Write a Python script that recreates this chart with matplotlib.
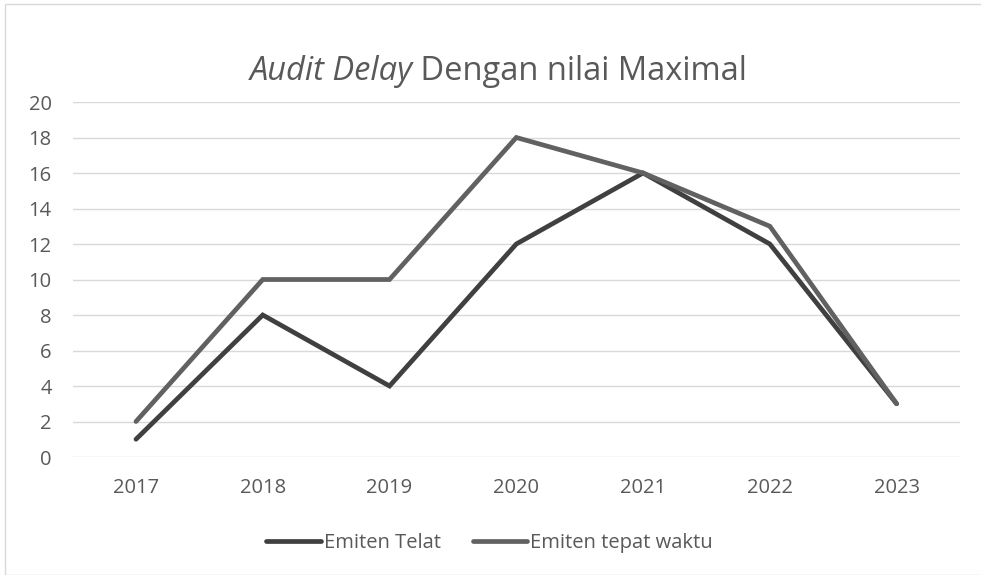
import matplotlib.pyplot as plt
from matplotlib.patches import Rectangle

years = ["2017", "2018", "2019", "2020", "2021", "2022", "2023"]
telat = [1, 8, 4, 12, 16, 12, 3]
tepat_waktu = [2, 10, 10, 18, 16, 13, 3]
y_ticks = [0, 2, 4, 6, 8, 10, 12, 14, 16, 18, 20]

plt.rcParams["font.family"] = ["Open Sans", "DejaVu Sans"]
grey = "#595959"

fig = plt.figure(figsize=(9.81, 5.75), dpi=100)
fig.patches.append(Rectangle((5 / 981, 0), 1, 1 - 4 / 575, transform=fig.transFigure,
                             fill=False, edgecolor="#d9d9d9", linewidth=1))
ax = fig.add_axes([0.074, 0.2052, 0.9046, 0.6174])

x = list(range(len(years)))
ax.plot(x, telat, color="#404040", linewidth=3.4, label="Emiten Telat",
        solid_capstyle="round", solid_joinstyle="miter")
ax.plot(x, tepat_waktu, color="#616161", linewidth=3.4, label="Emiten tepat waktu",
        solid_capstyle="round", solid_joinstyle="miter")

ax.set_xlim(-0.5, len(years) - 0.5)
ax.set_ylim(0, 20)
ax.set_yticks(y_ticks)
ax.set_xticks(x)
ax.set_xticklabels(years)
ax.tick_params(length=0, labelsize=14.5, labelcolor=grey)
ax.tick_params(axis="y", pad=15)
ax.tick_params(axis="x", pad=15)
ax.grid(axis="y", color="#d9d9d9", linewidth=1)
ax.set_axisbelow(True)
for s in ax.spines.values():
    s.set_visible(False)

# title: italic part + regular part, centred together
title_y = 0.875
t1 = fig.text(0, title_y, "Audit Delay", fontsize=23.5, style="italic", color=grey,
              ha="left", va="center")
t2 = fig.text(0, title_y, " Dengan nilai Maximal", fontsize=23.5, color=grey,
              ha="left", va="center")
fig.canvas.draw()
r = fig.canvas.get_renderer()
w1 = t1.get_window_extent(r).width / fig.bbox.width
w2 = t2.get_window_extent(r).width / fig.bbox.width
start = 0.508 - (w1 + w2) / 2
t1.set_x(start)
t2.set_x(start + w1)

fig.legend(loc="center", bbox_to_anchor=(0.499, 0.0557), ncol=2, frameon=False,
           fontsize=14.5, labelcolor=grey, handlelength=2.7, handletextpad=0.15,
           columnspacing=1.6)

plt.savefig("out.png", dpi=100)
